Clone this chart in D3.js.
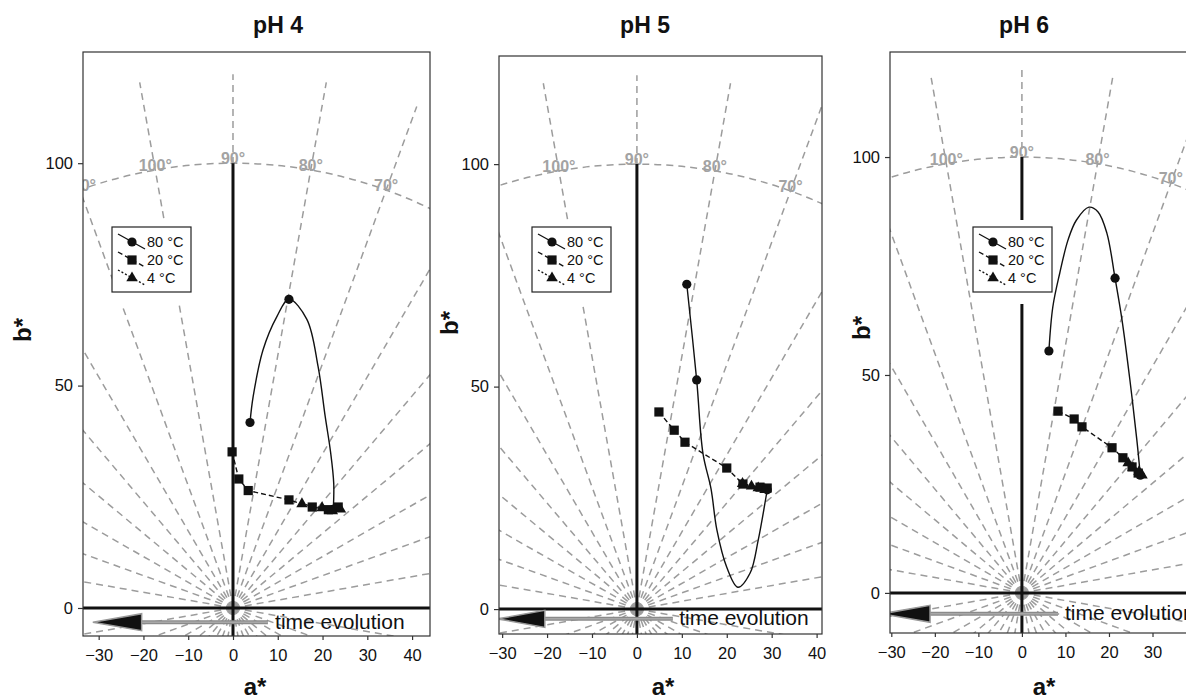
<!DOCTYPE html>
<html>
<head>
<meta charset="utf-8">
<script src="https://d3js.org/d3.v7.min.js"></script>
<style>
  body { margin: 0; background: #fff; }
  svg { font-family: "Liberation Sans", Arial, Helvetica, sans-serif; }
</style>
</head>
<body>
<div id="chart"></div>
<script>
// values, as [a*, b*]
var panelTitles = ["pH 4", "pH 5", "pH 6"];
var xTicks = [-30, -20, -10, 0, 10, 20, 30, 40];
var yTicks = [0, 50, 100];
var legendLabels = ["80 °C", "20 °C", "4 °C"];
var hueLabelAngles = [0, 10, 20, 30, 40, 50, 60, 70, 80, 90, 100, 110, 120, 130, 140, 150, 160, 170, 180];

// pH 4
var ph4Circles80 = [[3.8, 41.7], [12.5, 69.4], [22.4, 22.2]];
var ph4Curve80 = [[3.8, 41.7], [4.5, 47.5], [6.7, 58], [9.8, 65.5], [12.5, 69.4], [16.5, 64.9],
                  [19, 54.3], [20.6, 43], [21.8, 35], [22.5, 28], [22.4, 22.2]];
var ph4Squares20 = [[-0.2, 35.1], [1.3, 29], [3.4, 26.4], [12.5, 24.3], [17.7, 22.7], [21.3, 22.1], [23.5, 22.7]];
var ph4Triangles4 = [[15.4, 23.4], [19.9, 22.5], [22.2, 21.8], [24, 22.2]];

// pH 5
var ph5Circles80 = [[11.1, 73], [13.3, 51.5], [29, 26.8]];
var ph5Curve80 = [[11.1, 73], [13.3, 51.5], [14.7, 35], [16.5, 27], [17.8, 17.8], [20, 9.4], [22.5, 4.9],
                  [25.2, 8.1], [27, 15.5], [28.5, 23.8], [29, 26.8]];
var ph5Squares20 = [[4.9, 44.3], [8.3, 40.2], [10.7, 37.5], [20, 31.7], [23.6, 28.1], [27.4, 27.4], [29, 27.2]];
var ph5Triangles4 = [[23.5, 28.2], [25.5, 27.6], [27, 27.2], [28.5, 26.8]];

// pH 6
var ph6Circles80 = [[6.2, 55.5], [21.4, 72.2], [27.2, 27]];
var ph6Curve80 = [[6.2, 55.5], [7.1, 65.6], [8.7, 73.4], [10.6, 81], [12.5, 85.5], [15.4, 88.5], [17.5, 87.4],
                  [19.5, 82.6], [21.4, 72.2], [23, 62.6], [24.8, 48.9], [26.4, 35.1], [27.2, 27]];
var ph6Squares20 = [[8.3, 41.7], [12, 39.9], [13.8, 38.1], [20.7, 33.3], [23.2, 31], [25.3, 28.9], [26.7, 27.5]];
var ph6Triangles4 = [[24.4, 29.8], [25.5, 28.7], [26.9, 27.8], [27.6, 27]];

// panel frames (pixels) and the domains they show
var panels = [
  {title: panelTitles[0], circles: ph4Circles80, curve: ph4Curve80, squares: ph4Squares20, triangles: ph4Triangles4,
   left: 83, right: 430, top: 52, bottom: 636, xDom: [-33.5, 44], yDom: [-6.3, 125],
   titleX: 278, yLabelX: 23, yLabelY: 330, xLabelX: 255, legendX: 112,
   arrow: {b: -3.2, tip: -31.3, base: -20.4, end: 7.8, text: 9.4}},
  {title: panelTitles[1], circles: ph5Circles80, curve: ph5Curve80, squares: ph5Squares20, triangles: ph5Triangles4,
   left: 499, right: 822, top: 56, bottom: 634, xDom: [-30.7, 41.2], yDom: [-5.6, 124.3],
   titleX: 645, yLabelX: 450, yLabelY: 323, xLabelX: 663, legendX: 532,
   arrow: {b: -2.2, tip: -31, base: -20.5, end: 8, text: 9.4}},
  {title: panelTitles[2], circles: ph6Circles80, curve: ph6Curve80, squares: ph6Squares20, triangles: ph6Triangles4,
   left: 890, right: 1230, top: 52, bottom: 633, xDom: [-30.3, 47.8], yDom: [-9.2, 124.1],
   titleX: 1024, yLabelX: 862, yLabelY: 328, xLabelX: 1044, legendX: 973,
   arrow: {b: -4.8, tip: -32.2, base: -21.1, end: 8.3, text: 9.9}}
];

var W = 1186, H = 699;
var gridColor = "#9c9c9c";

var svg = d3.select("#chart").append("svg")
    .attr("width", W)
    .attr("height", H);

panels.forEach(function(p, i) {
  var x = d3.scaleLinear().domain(p.xDom).range([p.left, p.right]);
  var y = d3.scaleLinear().domain(p.yDom).range([p.bottom, p.top]);
  var visRight = Math.min(p.right, W);

  var clipId = "clip" + i;
  svg.append("clipPath").attr("id", clipId)
    .append("rect")
      .attr("x", p.left).attr("y", p.top)
      .attr("width", p.right - p.left).attr("height", p.bottom - p.top);

  var g = svg.append("g");
  var plot = g.append("g").attr("clip-path", "url(#" + clipId + ")");

  // hue angle spokes, every 10 degrees
  var spokes = d3.range(0, 360, 10);
  plot.selectAll(".spoke").data(spokes).enter().append("line")
      .attr("x1", x(0)).attr("y1", y(0))
      .attr("x2", function(d) { return x(120 * Math.cos(d * Math.PI / 180)); })
      .attr("y2", function(d) { return y(120 * Math.sin(d * Math.PI / 180)); })
      .attr("stroke", gridColor)
      .attr("stroke-width", 1.5)
      .attr("stroke-dasharray", "7,5");

  // chroma = 100 circle
  plot.append("ellipse")
      .attr("cx", x(0)).attr("cy", y(0))
      .attr("rx", x(100) - x(0)).attr("ry", y(0) - y(100))
      .attr("fill", "none")
      .attr("stroke", gridColor)
      .attr("stroke-width", 1.5)
      .attr("stroke-dasharray", "7,5");

  // hue labels on the circle (only those that fall in or at the edge of the frame)
  var shownHues = hueLabelAngles.filter(function(d) {
    var hx = x(100 * Math.cos(d * Math.PI / 180));
    return hx > p.left - 12 && hx < visRight + 8;
  });
  plot.selectAll(".hue").data(shownHues).enter().append("text")
      .attr("x", function(d) { return x(100 * Math.cos(d * Math.PI / 180)); })
      .attr("y", function(d) { return y(100 * Math.sin(d * Math.PI / 180)) + 1; })
      .attr("text-anchor", "middle")
      .attr("fill", "#a3a3a3")
      .attr("font-size", 16)
      .attr("font-weight", "bold")
      .text(function(d) { return d + "°"; });

  // thick a*/b* axes
  plot.append("line")
      .attr("x1", x(0)).attr("x2", x(0))
      .attr("y1", y(100)).attr("y2", p.bottom)
      .attr("stroke", "#111").attr("stroke-width", 3);
  plot.append("line")
      .attr("x1", p.left).attr("x2", p.right)
      .attr("y1", y(0)).attr("y2", y(0))
      .attr("stroke", "#111").attr("stroke-width", 3);

  // time evolution arrow
  var ay = y(p.arrow.b);
  plot.append("line")
      .attr("x1", x(p.arrow.end)).attr("x2", x(p.arrow.base))
      .attr("y1", ay).attr("y2", ay)
      .attr("stroke", "#8a8a8a").attr("stroke-width", 4);
  plot.append("line")
      .attr("x1", x(p.arrow.end)).attr("x2", x(p.arrow.base))
      .attr("y1", ay).attr("y2", ay)
      .attr("stroke", "#a8a8a8").attr("stroke-width", 1.5);
  plot.append("path")
      .attr("d", "M" + x(p.arrow.tip) + "," + ay +
                 "L" + x(p.arrow.base) + "," + (ay - 8.5) +
                 "L" + x(p.arrow.base) + "," + (ay + 8.5) + "Z")
      .attr("fill", "#111")
      .attr("stroke", "#999")
      .attr("stroke-width", 1.5);
  plot.append("text")
      .attr("x", x(p.arrow.text)).attr("y", ay + 6.5)
      .attr("font-size", 21)
      .attr("fill", "#111")
      .text("time evolution");

  // series lines
  var line = d3.line().x(function(d) { return x(d[0]); }).y(function(d) { return y(d[1]); });
  var curve = d3.line().x(function(d) { return x(d[0]); }).y(function(d) { return y(d[1]); })
      .curve(d3.curveCatmullRom.alpha(0.5));

  plot.append("path").datum(p.curve)
      .attr("d", curve).attr("fill", "none")
      .attr("stroke", "#111").attr("stroke-width", 1.4);
  plot.append("path").datum(p.squares)
      .attr("d", line).attr("fill", "none")
      .attr("stroke", "#111").attr("stroke-width", 1.4)
      .attr("stroke-dasharray", "5,3");
  plot.append("path").datum(p.triangles)
      .attr("d", line).attr("fill", "none")
      .attr("stroke", "#111").attr("stroke-width", 1.4)
      .attr("stroke-dasharray", "2,2");

  // markers
  plot.selectAll(".circ").data(p.circles).enter().append("circle")
      .attr("cx", function(d) { return x(d[0]); })
      .attr("cy", function(d) { return y(d[1]); })
      .attr("r", 4.6)
      .attr("fill", "#111");
  plot.selectAll(".sq").data(p.squares).enter().append("rect")
      .attr("x", function(d) { return x(d[0]) - 4.6; })
      .attr("y", function(d) { return y(d[1]) - 4.6; })
      .attr("width", 9.2).attr("height", 9.2)
      .attr("fill", "#111");
  plot.selectAll(".tri").data(p.triangles).enter().append("path")
      .attr("transform", function(d) { return "translate(" + x(d[0]) + "," + y(d[1]) + ")"; })
      .attr("d", d3.symbol().type(d3.symbolTriangle).size(56))
      .attr("fill", "#111");

  // legend (white band above and below breaks the b* axis)
  var lg = g.append("g").attr("transform", "translate(" + p.legendX + ",227)");
  lg.append("rect")
      .attr("x", 0).attr("y", -7).attr("width", 79).attr("height", 84)
      .attr("fill", "#fff");
  lg.append("rect")
      .attr("width", 79).attr("height", 65)
      .attr("fill", "#fff").attr("stroke", "#222").attr("stroke-width", 1.2);
  var dashes = [null, "5,3", "2,2"];
  legendLabels.forEach(function(lab, k) {
    var ry = 15 + k * 18;
    lg.append("line")
        .attr("x1", 6).attr("y1", ry - 8)
        .attr("x2", 33).attr("y2", ry + 7)
        .attr("stroke", "#111").attr("stroke-width", 1.3)
        .attr("stroke-dasharray", dashes[k]);
    if (k === 0) {
      lg.append("circle").attr("cx", 20).attr("cy", ry).attr("r", 4.6).attr("fill", "#111");
    } else if (k === 1) {
      lg.append("rect").attr("x", 15.4).attr("y", ry - 4.6).attr("width", 9.2).attr("height", 9.2).attr("fill", "#111");
    } else {
      lg.append("path").attr("transform", "translate(20," + ry + ")")
          .attr("d", d3.symbol().type(d3.symbolTriangle).size(56)).attr("fill", "#111");
    }
    lg.append("text")
        .attr("x", 35).attr("y", ry + 5)
        .attr("font-size", 14.5)
        .attr("fill", "#111")
        .text(lab);
  });

  // frame
  g.append("rect")
      .attr("x", p.left).attr("y", p.top)
      .attr("width", p.right - p.left).attr("height", p.bottom - p.top)
      .attr("fill", "none").attr("stroke", "#333").attr("stroke-width", 1.2);

  // axes (only ticks inside the visible window)
  var xTickShown = xTicks.filter(function(t) {
    return t >= p.xDom[0] && t <= p.xDom[1] && x(t) < W - 10;
  });
  var xAxis = d3.axisBottom(x).tickValues(xTickShown).tickSize(4).tickPadding(9);
  var gx = g.append("g").attr("transform", "translate(0," + p.bottom + ")").call(xAxis);
  var yAxis = d3.axisLeft(y).tickValues(yTicks).tickSize(5).tickPadding(5);
  var gy = g.append("g").attr("transform", "translate(" + p.left + ",0)").call(yAxis);
  [gx, gy].forEach(function(ax) {
    ax.select(".domain").remove();
    ax.selectAll("line").attr("stroke", "#333").attr("stroke-width", 1.2);
    ax.selectAll("text").attr("font-size", 16.5).attr("fill", "#111")
        .attr("font-family", "'Liberation Sans', Arial, sans-serif");
  });

  // titles and axis labels
  g.append("text")
      .attr("x", p.titleX).attr("y", 33)
      .attr("text-anchor", "middle")
      .attr("font-size", 23).attr("font-weight", "bold").attr("fill", "#111")
      .text(p.title);
  g.append("text")
      .attr("x", p.xLabelX).attr("y", 695)
      .attr("text-anchor", "middle")
      .attr("font-size", 24).attr("font-weight", "bold").attr("fill", "#111")
      .text("a*");
  g.append("text")
      .attr("transform", "translate(" + (p.yLabelX + 8) + "," + p.yLabelY + ") rotate(-90)")
      .attr("text-anchor", "middle")
      .attr("font-size", 24).attr("font-weight", "bold").attr("fill", "#111")
      .text("b*");
});
</script>
</body>
</html>
